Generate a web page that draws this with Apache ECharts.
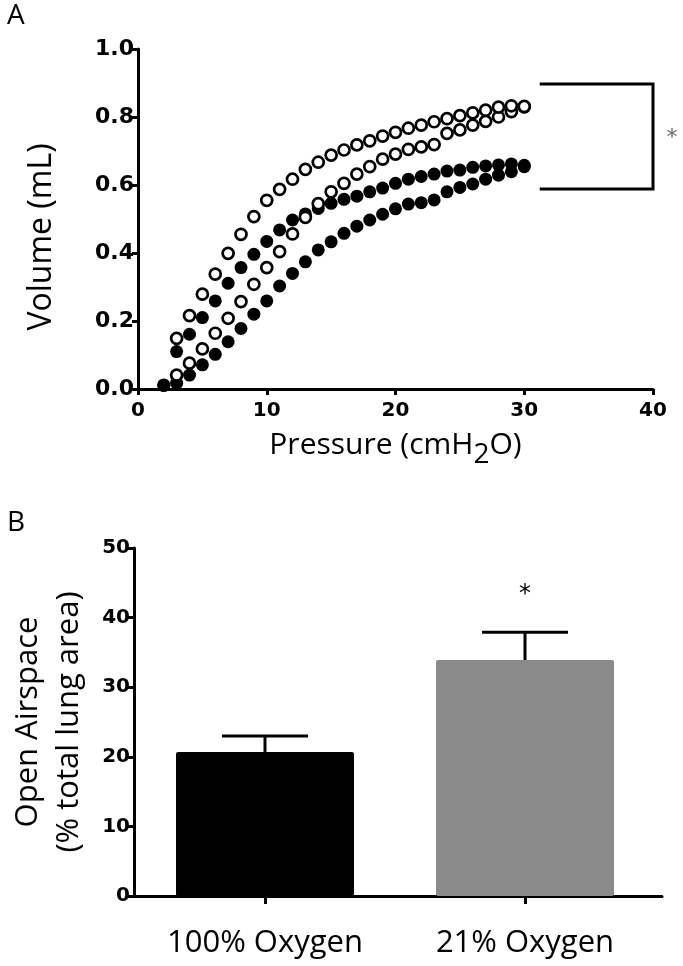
<!DOCTYPE html>
<html><head><meta charset="utf-8">
<script src="https://cdn.jsdelivr.net/npm/echarts@6/dist/echarts.min.js"></script>
<style>html,body{margin:0;padding:0;background:#fff}#c{width:683px;height:966px}</style>
</head><body><div id="c"></div>
<script>
// ---- Panel A data: pressure (cmH2O) vs volume (mL) ----
const pressure = [2,3,4,5,6,7,8,9,10,11,12,13,14,15,16,17,18,19,20,21,22,23,24,25,26,27,28,29,30];
const openUpper = [null,0.149,0.216,0.279,0.338,0.399,0.455,0.507,0.555,0.587,0.617,0.646,0.667,0.688,0.703,0.718,0.730,0.744,0.755,0.767,0.776,0.786,0.795,0.804,0.812,0.820,0.829,0.833,0.831];
const openLower = [null,0.041,0.076,0.118,0.164,0.208,0.257,0.308,0.357,0.404,0.456,0.505,0.545,0.580,0.605,0.632,0.654,0.676,0.691,0.705,0.712,0.719,0.752,0.762,0.776,0.787,0.800,0.816,0.830];
const filledUpper = [0.012,0.110,0.161,0.210,0.259,0.311,0.357,0.396,0.434,0.468,0.497,0.515,0.531,0.546,0.558,0.567,0.580,0.591,0.605,0.617,0.625,0.632,0.641,0.644,0.652,0.656,0.659,0.662,0.658];
const filledLower = [0.010,0.017,0.041,0.071,0.102,0.139,0.178,0.220,0.259,0.303,0.340,0.374,0.409,0.433,0.458,0.479,0.497,0.514,0.530,0.544,0.548,0.556,0.580,0.593,0.603,0.617,0.629,0.639,0.654];
const bracketX = [31.2, 40, 40, 31.2];
const bracketY = [0.897, 0.897, 0.588, 0.588];

// ---- Panel B data ----
const groups = ['100% Oxygen', '21% Oxygen'];
const means = [20.7, 33.9];
const sems = [2.3, 4.0];
const signif = ['', '*'];
const barColors = ['#000000', '#8a8a8a'];

const pairs = (ys) => pressure.map((x, i) => [x, ys[i]]).filter(p => p[1] != null);

const tickFont = {fontFamily: 'DejaVu Sans', fontWeight: 'bold', color: '#000'};
const black3 = {color: '#000', width: 3};

const chart = echarts.init(document.getElementById('c'), null, {renderer: 'canvas'});
chart.setOption({
  animation: false,
  backgroundColor: '#fff',
  grid: [
    {left: 138, top: 49, width: 515, height: 340},
    {left: 135, top: 548, width: 520, height: 348},
    {left: 130, top: 548, width: 532, height: 348}
  ],
  xAxis: [
    {type: 'value', gridIndex: 0, min: 0, max: 40, interval: 10,
     axisLine: {lineStyle: black3}, axisTick: {length: 6, lineStyle: black3},
     splitLine: {show: false},
     axisLabel: Object.assign({fontSize: 20, margin: 12}, tickFont),
     name: 'Pressure (cmH{sub|2}O)', nameLocation: 'middle', nameGap: 34,
     nameTextStyle: {fontFamily: 'Open Sans', fontSize: 30, color: '#000', lineHeight: 30,
       rich: {sub: {fontFamily: 'Open Sans', fontSize: 28, lineHeight: 28, color: '#000', padding: [19, 0, 0, 0]}}}},
    {type: 'category', gridIndex: 1, data: groups,
     axisLine: {show: false},
     axisTick: {show: true, alignWithLabel: true, length: 8, lineStyle: black3},
     axisLabel: {fontFamily: 'Open Sans', fontSize: 31, color: '#000', margin: 32}},
    {type: 'value', gridIndex: 2, min: 0, max: 1,
     axisLine: {show: true, lineStyle: black3}, axisTick: {show: false},
     axisLabel: {show: false}, splitLine: {show: false}}
  ],
  yAxis: [
    {type: 'value', gridIndex: 0, min: 0, max: 1, interval: 0.2,
     axisLine: {show: true, lineStyle: black3}, axisTick: {show: true, length: 6, lineStyle: black3},
     splitLine: {show: false},
     axisLabel: Object.assign({fontSize: 22, margin: 4, formatter: v => v.toFixed(1)}, tickFont),
     name: 'Volume (mL)', nameLocation: 'middle', nameGap: 80,
     nameTextStyle: {fontFamily: 'Open Sans', fontSize: 32, color: '#000', padding: [0, 36, 0, 0]}},
    {type: 'value', gridIndex: 1, min: 0, max: 50, show: false},
    {type: 'value', gridIndex: 2, min: 0, max: 50, interval: 10,
     axisLine: {show: true, lineStyle: black3}, axisTick: {show: true, length: 6, lineStyle: black3},
     splitLine: {show: false},
     axisLabel: Object.assign({fontSize: 20, margin: 4}, tickFont),
     name: 'Open Airspace\n(% total lung area)', nameLocation: 'middle', nameGap: 44,
     nameTextStyle: {fontFamily: 'Open Sans', fontSize: 31, lineHeight: 41, color: '#000'}}
  ],
  series: [
    {type: 'scatter', xAxisIndex: 0, yAxisIndex: 0, data: pairs(filledLower), symbolSize: 13,
     itemStyle: {color: '#000', opacity: 1}},
    {type: 'scatter', xAxisIndex: 0, yAxisIndex: 0, data: pairs(filledUpper), symbolSize: 13,
     itemStyle: {color: '#000', opacity: 1}},
    {type: 'scatter', xAxisIndex: 0, yAxisIndex: 0, data: pairs(openLower), symbolSize: 11,
     itemStyle: {color: '#fff', borderColor: '#000', borderWidth: 2.7, opacity: 1}},
    {type: 'scatter', xAxisIndex: 0, yAxisIndex: 0, data: pairs(openUpper), symbolSize: 11,
     itemStyle: {color: '#fff', borderColor: '#000', borderWidth: 2.7, opacity: 1}},
    {type: 'line', xAxisIndex: 0, yAxisIndex: 0, clip: false, symbol: 'none',
     data: bracketX.map((x, i) => [x, bracketY[i]]),
     lineStyle: {color: '#000', width: 3, join: 'miter'}},
    {type: 'bar', xAxisIndex: 1, yAxisIndex: 1, barWidth: 178,
     data: means.map((m, i) => ({value: m, itemStyle: {color: barColors[i], borderRadius: 2}}))},
    {type: 'custom', xAxisIndex: 1, yAxisIndex: 1, z: 5,
     data: means.map((m, i) => [i, m, m + sems[i]]),
     renderItem: (params, api) => {
       const i = api.value(0);
       const p0 = api.coord([i, api.value(1)]);
       const p1 = api.coord([i, api.value(2)]);
       const hw = 43;
       const children = [
         {type: 'line', shape: {x1: p0[0], y1: p0[1], x2: p1[0], y2: p1[1]}, style: {stroke: '#000', lineWidth: 3}},
         {type: 'line', shape: {x1: p1[0] - hw, y1: p1[1], x2: p1[0] + hw, y2: p1[1]}, style: {stroke: '#000', lineWidth: 3}}
       ];
       if (signif[i]) {
         children.push({type: 'text', x: p1[0], y: p1[1] - 37,
           style: {text: signif[i], fontFamily: 'DejaVu Sans', fontSize: 24, fill: '#000', align: 'center', verticalAlign: 'middle'}});
       }
       return {type: 'group', children};
     }}
  ],
  graphic: [
    {type: 'text', left: 7, top: 2, style: {text: 'A', fontFamily: 'Open Sans', fontSize: 28, fill: '#000'}},
    {type: 'text', left: 7, top: 509, style: {text: 'B', fontFamily: 'Open Sans', fontSize: 28, fill: '#000'}},
    {type: 'text', x: 672, y: 138, style: {text: '*', fontFamily: 'DejaVu Sans', fontSize: 22, fill: '#666', align: 'center', verticalAlign: 'middle'}}
  ]
});
</script></body></html>
